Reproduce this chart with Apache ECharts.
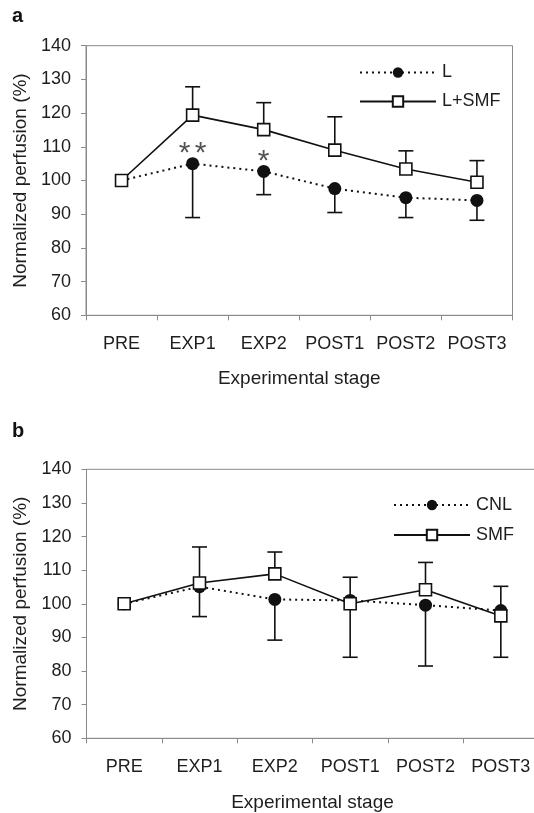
<!DOCTYPE html>
<html>
<head>
<meta charset="utf-8">
<script src="https://cdn.jsdelivr.net/npm/echarts@6/dist/echarts.min.js"></script>
<style>
html,body{margin:0;padding:0;background:#fff;}
#chart{width:534px;height:813px;}
</style>
</head>
<body>
<div id="chart"></div>
<script>
// ---- data ----
const stages = ['PRE', 'EXP1', 'EXP2', 'POST1', 'POST2', 'POST3'];
const yTicks = [60, 70, 80, 90, 100, 110, 120, 130, 140];

// panel a
const seriesL = [100, 105.0, 102.7, 97.6, 94.9, 94.1];
const seriesL_lower = [null, 89.0, 95.8, 90.5, 89.0, 88.2];
const seriesLSMF = [100, 119.4, 115.1, 109.0, 103.4, 99.5];
const seriesLSMF_upper = [null, 127.8, 123.1, 118.9, 108.8, 105.9];
const sigA = ['', '**', '*', '', '', ''];

// panel b
const seriesCNL = [100, 105.1, 101.3, 101.0, 99.6, 98.0];
const seriesCNL_lower = [null, 96.2, 89.2, 84.1, 81.5, 84.1];
const seriesSMF = [100, 106.2, 108.9, 100.0, 104.2, 96.4];
const seriesSMF_upper = [null, 116.9, 115.4, 107.9, 112.3, 105.2];

// ---- chart ----
const FONT = 'Liberation Sans, Arial, sans-serif';
const TXT = '#1e1e1e';
const AX = '#8a8a8a';
const INK = '#111';

function errData(mean, end) {
  const out = [];
  mean.forEach((m, i) => { if (end[i] != null) out.push([i, m, end[i]]); });
  return out;
}
function errRender(params, api) {
  const x = api.value(0), m = api.value(1), e = api.value(2);
  const p1 = api.coord([x, m]);
  const p2 = api.coord([x, e]);
  const hw = 7.5;
  const st = { stroke: INK, lineWidth: 1.6 };
  return {
    type: 'group',
    children: [
      { type: 'line', shape: { x1: p1[0], y1: p1[1], x2: p2[0], y2: p2[1] }, style: st },
      { type: 'line', shape: { x1: p2[0] - hw, y1: p2[1], x2: p2[0] + hw, y2: p2[1] }, style: st }
    ]
  };
}

function xAxisCfg(gi, nameGap) {
  return {
    type: 'category', gridIndex: gi, data: stages, boundaryGap: true,
    axisLine: { lineStyle: { color: AX, width: 1 } },
    axisTick: { show: true, length: 5, interval: 0, alignWithLabel: false, lineStyle: { color: AX } },
    axisLabel: { color: TXT, fontSize: 18, fontFamily: FONT, margin: 20, interval: 0 },
    name: 'Experimental stage', nameLocation: 'middle', nameGap: nameGap,
    nameTextStyle: { color: TXT, fontSize: 19, fontFamily: FONT },
    splitLine: { show: false }
  };
}
function yAxisCfg(gi) {
  return {
    type: 'value', gridIndex: gi, min: yTicks[0], max: yTicks[yTicks.length - 1], interval: 10,
    axisLine: { show: true, lineStyle: { color: AX, width: 1 } },
    axisTick: { show: true, length: 5, lineStyle: { color: AX } },
    axisLabel: { color: TXT, fontSize: 18, fontFamily: FONT, margin: 15 },
    splitLine: { show: false },
    name: 'Normalized perfusion (%)', nameLocation: 'middle', nameGap: 55, nameRotate: 90,
    nameTextStyle: { color: TXT, fontSize: 19, fontFamily: FONT }
  };
}

const dotted = { color: INK, width: 2, type: [2, 4] };
const solid = { color: INK, width: 1.6, type: 'solid' };
const circleStyle = { color: INK, borderColor: INK, borderWidth: 0 };
const squareStyle = { color: '#fff', borderColor: INK, borderWidth: 1.6 };

const option = {
  backgroundColor: '#fff',
  animation: false,
  graphic: [
    { type: 'text', left: 12, top: 6, style: { text: 'a', font: 'bold 20px ' + FONT, fill: '#111' } },
    { type: 'text', left: 12, top: 421, style: { text: 'b', font: 'bold 20px ' + FONT, fill: '#111' } }
  ],
  grid: [
    { left: 86, top: 45.7, width: 426.5, height: 269.6, show: true, borderColor: AX, borderWidth: 1,
      containLabel: false, outerBoundsMode: 'none' },
    { left: 86.5, top: 469.3, width: 452, height: 269, show: true, borderColor: AX, borderWidth: 1,
      containLabel: false, outerBoundsMode: 'none' }
  ],
  xAxis: [xAxisCfg(0, 54), xAxisCfg(1, 55)],
  yAxis: [yAxisCfg(0), yAxisCfg(1)],
  legend: [
    {
      data: ['L', 'L+SMF'], orient: 'vertical', left: 354, top: 58.5, itemGap: 11,
      itemWidth: 76, itemHeight: 13,
      textStyle: { color: TXT, fontSize: 18, fontFamily: FONT, padding: [0, 0, 0, 1] }
    },
    {
      data: ['CNL', 'SMF'], orient: 'vertical', left: 388, top: 491, itemGap: 12,
      itemWidth: 76, itemHeight: 13,
      textStyle: { color: TXT, fontSize: 18, fontFamily: FONT, padding: [0, 0, 0, 1] }
    }
  ],
  series: [
    // panel a error bars
    { type: 'custom', name: 'errL', xAxisIndex: 0, yAxisIndex: 0, z: 1, renderItem: errRender,
      data: errData(seriesL, seriesL_lower), encode: { x: 0, y: [1, 2] }, silent: true },
    { type: 'custom', name: 'errLSMF', xAxisIndex: 0, yAxisIndex: 0, z: 1, renderItem: errRender,
      data: errData(seriesLSMF, seriesLSMF_upper), encode: { x: 0, y: [1, 2] }, silent: true },
    {
      type: 'line', name: 'L', xAxisIndex: 0, yAxisIndex: 0, z: 3,
      symbol: 'circle', symbolSize: 13, lineStyle: dotted, itemStyle: circleStyle,
      data: seriesL.map((v, i) => ({
        value: v,
        label: {
          show: !!sigA[i],
          formatter: sigA[i] ? sigA[i].split('').map(() => '{s|*}').join('') : '',
          position: 'top', distance: 0, offset: [0, 12],
          rich: { s: { fontSize: 30, fontFamily: FONT, color: '#555', width: 16, align: 'center' } }
        }
      }))
    },
    {
      type: 'line', name: 'L+SMF', xAxisIndex: 0, yAxisIndex: 0, z: 4,
      symbol: 'rect', symbolSize: 12, lineStyle: solid, itemStyle: squareStyle,
      data: seriesLSMF
    },
    // panel b error bars
    { type: 'custom', name: 'errCNL', xAxisIndex: 1, yAxisIndex: 1, z: 1, renderItem: errRender,
      data: errData(seriesCNL, seriesCNL_lower), encode: { x: 0, y: [1, 2] }, silent: true },
    { type: 'custom', name: 'errSMF', xAxisIndex: 1, yAxisIndex: 1, z: 1, renderItem: errRender,
      data: errData(seriesSMF, seriesSMF_upper), encode: { x: 0, y: [1, 2] }, silent: true },
    {
      type: 'line', name: 'CNL', xAxisIndex: 1, yAxisIndex: 1, z: 3,
      symbol: 'circle', symbolSize: 13, lineStyle: dotted, itemStyle: circleStyle,
      data: seriesCNL
    },
    {
      type: 'line', name: 'SMF', xAxisIndex: 1, yAxisIndex: 1, z: 4,
      symbol: 'rect', symbolSize: 12, lineStyle: solid, itemStyle: squareStyle,
      data: seriesSMF
    }
  ]
};

const chart = echarts.init(document.getElementById('chart'), null, { renderer: 'canvas' });
chart.setOption(option);
</script>
</body>
</html>
